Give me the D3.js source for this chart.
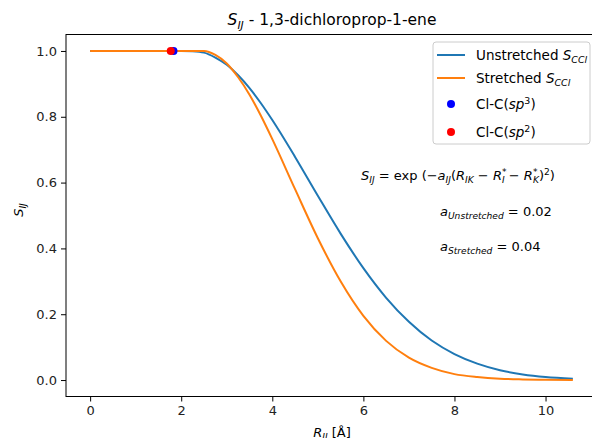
<!DOCTYPE html>
<html>
<head>
<meta charset="utf-8">
<script src="https://cdn.jsdelivr.net/npm/d3@7"></script>
<style>
  body { margin: 0; background: #fff; }
  svg { display: block; font-family: "DejaVu Sans", sans-serif; }
</style>
</head>
<body>
<script>
// Values
const distances = [0, 0.5, 1, 1.5, 2, 2.25, 2.5, 2.75, 3, 3.25, 3.5, 3.75, 4, 4.5, 5, 5.5, 6, 6.5, 7, 7.5, 8, 8.5, 9, 9.5, 10, 10.6];
const unstretched = [1, 1, 1, 1, 1, 0.999, 0.995, 0.98, 0.958, 0.926, 0.887, 0.841, 0.79, 0.678, 0.56, 0.445, 0.34, 0.25, 0.177, 0.12, 0.079, 0.05, 0.03, 0.017, 0.009, 0.004];
const stretched = [1, 1, 1, 1, 1, 1, 1, 0.988, 0.962, 0.92, 0.867, 0.803, 0.732, 0.58, 0.431, 0.3, 0.195, 0.119, 0.068, 0.037, 0.018, 0.009, 0.004, 0.002, 0.001, 0];
const bondPoints = [
  { name: "sp3", r: 1.83, s: 1.0, color: "#0000ff" },
  { name: "sp2", r: 1.77, s: 1.0, color: "#ff0000" }
];
const xTicks = [0, 2, 4, 6, 8, 10];
const yTicks = [0, 0.2, 0.4, 0.6, 0.8, 1.0];

const W = 592, H = 438;
const svg = d3.select("body").append("svg")
  .attr("width", W)
  .attr("height", H);

// Scales (axes frame runs past the right edge, as in the picture)
const x = d3.scaleLinear().domain([-0.53, 11.13]).range([66, 597]);
const y = d3.scaleLinear().domain([-0.05, 1.05]).range([396.5, 34.5]);

const blue = "#1f77b4", orange = "#ff7f0e";

// Frame
svg.append("rect")
  .attr("x", x(-0.53)).attr("y", y(1.05))
  .attr("width", x(11.13) - x(-0.53))
  .attr("height", y(-0.05) - y(1.05))
  .attr("fill", "none")
  .attr("stroke", "#000")
  .attr("stroke-width", 1);

// Axes
const xAxis = svg.append("g")
  .attr("transform", `translate(0,${y(-0.05)})`)
  .call(d3.axisBottom(x).tickValues(xTicks).tickFormat(d3.format("d")).tickSize(5).tickPadding(4));
const yAxis = svg.append("g")
  .attr("transform", `translate(${x(-0.53)},0)`)
  .call(d3.axisLeft(y).tickValues(yTicks).tickFormat(d3.format(".1f")).tickSize(5).tickPadding(4));
[xAxis, yAxis].forEach(g => {
  g.select(".domain").remove();
  g.selectAll("text").attr("font-size", 13).attr("fill", "#222").attr("font-family", "DejaVu Sans");
  g.selectAll("line").attr("stroke", "#000");
});

// Curves
const line = d3.line()
  .x((d, i) => x(distances[i]))
  .y(d => y(d))
  .curve(d3.curveMonotoneX);

svg.append("path")
  .datum(unstretched)
  .attr("d", line)
  .attr("fill", "none")
  .attr("stroke", blue)
  .attr("stroke-width", 2);

svg.append("path")
  .datum(stretched)
  .attr("d", line)
  .attr("fill", "none")
  .attr("stroke", orange)
  .attr("stroke-width", 2);

// Bond points (blue first, red on top)
svg.selectAll(".pt")
  .data(bondPoints)
  .enter().append("circle")
  .attr("class", "pt")
  .attr("cx", d => x(d.r))
  .attr("cy", d => y(d.s))
  .attr("r", 4)
  .attr("fill", d => d.color);

// Helper for mathtext-like labels
function mathText(parent, px, py, parts, size, anchor) {
  const t = parent.append("text")
    .attr("x", px).attr("y", py)
    .attr("font-size", size)
    .attr("text-anchor", anchor || "start")
    .attr("fill", "#000");
  parts.forEach(p => {
    const sp = t.append("tspan").text(p.t);
    if (p.i) sp.attr("font-style", "italic");
    if (p.sub) sp.attr("font-size", size * 0.7).attr("dy", size * 0.25);
    if (p.sup) sp.attr("font-size", size * 0.7).attr("dy", -size * 0.4);
    if (p.back) sp.attr("dy", p.back);
    if (p.dx) sp.attr("dx", p.dx);
  });
  return t;
}

// Title
mathText(svg, 332, 25, [
  { t: "S", i: true }, { t: "IJ", i: true, sub: true },
  { t: " - 1,3-dichloroprop-1-ene", back: -15.5 * 0.25 }
], 15.5, "middle");

// Axis labels
mathText(svg, 332, 437, [
  { t: "R", i: true }, { t: "IJ", i: true, sub: true }, { t: " [Å]", back: -13 * 0.25 }
], 13, "middle");

const yl = svg.append("g").attr("transform", "translate(23,210) rotate(-90)");
mathText(yl, 0, 0, [{ t: "S", i: true }, { t: "IJ", i: true, sub: true }], 13, "middle");

// Formula annotations
const fs = 13;
mathText(svg, 361, 180, [
  { t: "S", i: true }, { t: "IJ", i: true, sub: true },
  { t: " = exp (−", back: -3.25 }, { t: "a", i: true }, { t: "IJ", i: true, sub: true },
  { t: "(", back: -3.25 }, { t: "R", i: true }, { t: "IK", i: true, sub: true },
  { t: " − ", back: -3.25 }, { t: "R", i: true }, { t: "*", sup: true, back: -5.2 },
  { t: "I", i: true, sub: true, back: 8.45, dx: -4.5 },
  { t: " − ", back: -3.25 }, { t: "R", i: true }, { t: "*", sup: true, back: -5.2 },
  { t: "K", i: true, sub: true, back: 8.45, dx: -4.5 },
  { t: ")", back: -3.25 }, { t: "2", sup: true }, { t: ")", back: 5.2 }
], fs, "start");

mathText(svg, 440, 216, [
  { t: "a", i: true }, { t: "Unstretched", i: true, sub: true },
  { t: " = 0.02", back: -3.25 }
], fs, "start");

mathText(svg, 440, 251, [
  { t: "a", i: true }, { t: "Stretched", i: true, sub: true },
  { t: " = 0.04", back: -3.25 }
], fs, "start");

// Legend
const lg = svg.append("g");
lg.append("rect")
  .attr("x", 433).attr("y", 42)
  .attr("width", 157).attr("height", 102)
  .attr("rx", 3)
  .attr("fill", "#fff").attr("fill-opacity", 0.8)
  .attr("stroke", "#ccc");

const entries = [
  { type: "line", color: blue, y: 55, parts: [{ t: "Unstretched " }, { t: "S", i: true }, { t: "CCl", i: true, sub: true }] },
  { type: "line", color: orange, y: 78, parts: [{ t: "Stretched " }, { t: "S", i: true }, { t: "CCl", i: true, sub: true }] },
  { type: "dot", color: "#0000ff", y: 104, parts: [{ t: "Cl-C(" }, { t: "sp", i: true }, { t: "3", sup: true }, { t: ")", back: 5.4 }] },
  { type: "dot", color: "#ff0000", y: 132, parts: [{ t: "Cl-C(" }, { t: "sp", i: true }, { t: "2", sup: true }, { t: ")", back: 5.4 }] }
];
entries.forEach(e => {
  if (e.type === "line") {
    lg.append("line")
      .attr("x1", 437).attr("x2", 465)
      .attr("y1", e.y).attr("y2", e.y)
      .attr("stroke", e.color).attr("stroke-width", 2);
  } else {
    lg.append("circle")
      .attr("cx", 451).attr("cy", e.y).attr("r", 4)
      .attr("fill", e.color);
  }
  mathText(lg, 476, e.y + 5, e.parts, 13.5, "start");
});
</script>
</body>
</html>
